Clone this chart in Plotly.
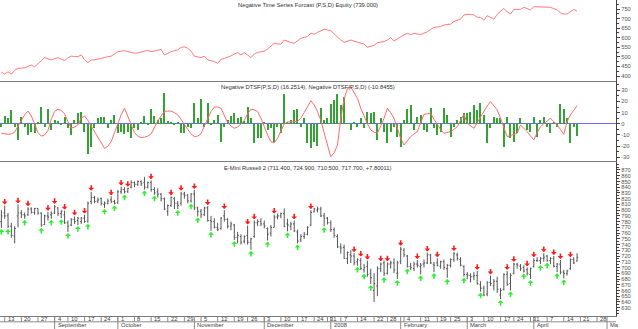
import pandas as pd
import plotly.graph_objects as go

# ---------------- calendar (trading days) ----------------
holidays = ['2007-09-03', '2007-11-22', '2007-12-25', '2008-01-01',
            '2008-01-21', '2008-02-18', '2008-03-21']
calendar = pd.bdate_range('2007-08-10', '2008-05-02', freq='C', holidays=holidays)

# ---------------- price bars (E-Mini Russell 2000) ----------------
opens = [780, 795, 790, 772, 755, 790, 795, 792, 792, 802, 796,
         803, 795, 775, 790, 792, 795, 804, 794, 792, 778,
         774, 784, 782, 780, 786, 781, 815, 822, 816, 820,
         810, 812, 818, 815, 813, 832, 836, 833, 840, 848,
         845, 850, 848, 840, 848, 836, 832, 828, 820, 798,
         808, 820, 812, 812, 828, 826, 816, 828, 804, 798,
         792, 804, 782, 780, 770, 768, 790, 784, 772, 774,
         752, 754, 746, 756, 744, 754, 778, 780, 776, 768,
         760, 770, 788, 790, 794, 776, 772, 776, 762, 748,
         754, 758, 774, 797, 800, 802, 790, 786, 778, 766,
         754, 736, 735, 716, 722, 720, 710, 712, 696, 702,
         690, 660, 668, 698, 708, 690, 706, 708, 690, 710,
         730, 720, 702, 698, 706, 702, 706, 708, 722, 706,
         708, 702, 710, 698, 704, 714, 722, 714, 702, 688,
         686, 684, 686, 670, 664, 654, 674, 668, 676, 652,
         662, 688, 672, 690, 706, 702, 700, 696, 688, 702,
         712, 712, 716, 720, 712, 716, 702, 706, 692, 690,
         698, 714, 711.4]
highs = [800, 808, 795, 778, 772, 810, 800, 796, 805, 805, 804,
         803, 796, 792, 797, 798, 809, 805, 800, 799, 782,
         786, 789, 788, 788, 792, 815, 832, 825, 822, 822,
         815, 820, 824, 818, 835, 841, 840, 839, 852, 850,
         852, 852, 858, 850, 852, 840, 838, 830, 822, 810,
         824, 823, 816, 832, 832, 828, 830, 835, 806, 802,
         806, 807, 790, 786, 778, 788, 800, 786, 780, 776,
         762, 758, 756, 773, 752, 782, 784, 786, 782, 770,
         774, 792, 794, 796, 803, 785, 780, 782, 766, 758,
         762, 772, 800, 804, 806, 806, 795, 788, 782, 770,
         758, 742, 740, 728, 730, 725, 716, 717, 706, 712,
         698, 690, 702, 709, 712, 709, 712, 716, 712, 736,
         734, 722, 708, 710, 713, 708, 714, 726, 724, 710,
         716, 712, 714, 706, 716, 727, 726, 718, 704, 692,
         690, 692, 694, 676, 668, 676, 686, 680, 684, 664,
         690, 694, 690, 708, 708, 706, 704, 700, 700, 716,
         718, 718, 725, 722, 718, 720, 708, 713, 696, 696,
         716, 718, 724.9]
lows = [769, 785, 769, 752, 742, 770, 786, 785, 790, 794, 792,
        792, 771, 774, 782, 785, 793, 790, 786, 776, 762,
        772, 776, 774, 776, 778, 778, 810, 812, 812, 808,
        804, 810, 812, 810, 811, 828, 829, 830, 838, 840,
        842, 842, 836, 838, 832, 827, 822, 815, 800, 790,
        806, 802, 802, 808, 820, 812, 813, 800, 789, 786,
        790, 780, 764, 768, 764, 766, 780, 768, 765, 748,
        742, 740, 742, 740, 731, 752, 772, 772, 768, 747,
        754, 770, 784, 786, 770, 763, 765, 762, 742, 744,
        750, 756, 772, 796, 796, 788, 772, 775, 762, 752,
        734, 724, 715, 706, 708, 704, 703, 696, 691, 684,
        671, 640, 650, 692, 685, 688, 698, 690, 680, 706,
        718, 700, 696, 694, 700, 688, 700, 706, 706, 692,
        702, 698, 696, 682, 700, 710, 712, 702, 684, 680,
        674, 678, 670, 658, 650, 650, 668, 660, 656, 645,
        660, 668, 660, 688, 698, 694, 691, 686, 680, 700,
        710, 706, 710, 710, 706, 700, 692, 688, 681, 686,
        696, 706, 710.5]
closes = [790, 790, 772, 756, 768, 795, 792, 790, 802, 796, 803,
          795, 774, 790, 788, 794, 806, 794, 798, 778, 772,
          784, 780, 786, 786, 780, 812, 822, 815, 818, 812,
          812, 816, 815, 812, 832, 836, 832, 838, 848, 845,
          850, 846, 840, 848, 836, 830, 828, 820, 802, 808,
          822, 812, 808, 828, 826, 816, 828, 804, 798, 792,
          804, 782, 780, 770, 766, 786, 784, 772, 776, 752,
          756, 744, 754, 744, 750, 778, 780, 776, 772, 758,
          770, 788, 790, 794, 772, 774, 776, 764, 746, 754,
          758, 770, 796, 802, 802, 790, 786, 778, 766, 756,
          736, 734, 716, 726, 720, 708, 714, 698, 700, 688,
          682, 672, 698, 706, 690, 706, 708, 696, 708, 732,
          722, 702, 700, 706, 704, 704, 708, 722, 708, 704,
          704, 710, 700, 704, 714, 724, 716, 704, 688, 686,
          684, 686, 672, 664, 652, 674, 672, 676, 662, 660,
          688, 670, 686, 706, 704, 698, 694, 690, 698, 712,
          712, 716, 718, 712, 716, 702, 706, 692, 690, 694,
          714, 708, 717.7]

# signal arrows (bar number = trading days from 13 Aug 2007, price the arrow points at)
sell_bar = [0, 4, 7, 13, 15, 18, 21, 24, 26, 32, 35, 37, 44, 50, 53, 57, 61, 66,
            73, 75, 81, 87, 92, 105, 107, 109, 113, 115, 119, 124, 127, 130, 135,
            142, 146, 151, 153, 157, 159, 162, 165, 167, 170]
sell_price = [810, 812, 807, 799, 811, 801, 791, 794, 834, 826, 843, 841, 854, 826,
              834, 837, 809, 802, 775, 784, 794, 784, 802, 727, 719, 714, 711, 711,
              738, 715, 728, 718, 729, 696, 688, 696, 710, 702, 718, 727, 722, 715, 718]
buy_bar = [-1, 1, 6, 11, 14, 17, 19, 22, 25, 30, 33, 36, 42, 45, 52, 56, 58, 62,
           69, 74, 79, 85, 88, 96, 106, 108, 110, 114, 118, 121, 125, 129, 133,
           138, 143, 149, 152, 156, 158, 161, 163, 166, 168]
buy_price = [767, 767, 783, 769, 783, 784, 760, 772, 776, 802, 808, 827, 834, 825,
             800, 811, 787, 762, 746, 729, 745, 761, 740, 770, 701, 689, 669, 683,
             678, 698, 686, 690, 680, 682, 656, 643, 658, 689, 678, 704, 708, 690, 679]

# ---------------- equity curve ----------------
equity = [420, 410, 422, 410, 430, 440, 441, 443, 450, 457, 448,
          462, 480, 496, 488, 484, 490, 496, 488, 481, 495,
          504, 502, 501, 510, 485, 470, 484, 485, 487, 492,
          497, 501, 504, 515, 527, 530, 532, 528, 522, 519,
          521, 524, 530, 534, 527, 532, 536, 539, 510, 520,
          527, 532, 536, 550, 552, 545, 530, 504, 500, 496,
          504, 484, 480, 476, 466, 487, 492, 498, 505, 515,
          522, 510, 522, 510, 496, 515, 524, 526, 530, 541,
          555, 571, 568, 566, 588, 580, 575, 571, 585, 597,
          602, 606, 623, 618, 628, 636, 644, 640, 637, 620,
          602, 588, 576, 582, 588, 582, 576, 572, 567, 550,
          553, 560, 574, 577, 580, 588, 600, 583, 595, 606,
          615, 623, 615, 623, 618, 616, 624, 631, 643, 654,
          656, 658, 666, 668, 671, 685, 692, 697, 719, 720,
          722, 719, 707, 706, 692, 715, 705, 697, 722, 740,
          753, 735, 724, 748, 748, 748, 759, 752, 745, 762,
          761, 760, 759, 759, 759, 752, 745, 730, 724, 724,
          736, 748, 739]

# ---------------- DTSF oscillator ----------------
dtsf_hist = [-2.6, 7.3, 4.9, 12.4, -3, -14.5, 6.4, -2.6, -10, -7, -8.5,
             2, 14.7, -2.6, 13, -5.5, 3.4, 2.8, -1, 6.4, -4,
             -10, 3.4, 9.4, 10.9, -7, -27.3, -20.4, -4, 4.9, 6.4,
             6.4, -4, 3.4, 7.9, -8.5, -7, -9.4, -7, -13, -4,
             -5.5, 1.3, 7, -1, 13, 7.3, 3.4, 4.9, 27.3, 2.5,
             2, -1, 1.3, -8.5, -8.5, -2.6, -4, 18.9, 4.9, 22.2,
             -2.6, 18.3, -1, 3.4, 7.9, -16, -2.6, 3.4, 7, 9.4,
             4.9, 5.8, 2.5, 14.7, 4.9, -17.5, -12.4, -13, 2, -5.5,
             -4, -16, -2.6, -8.5, 26.4, 2, 3.4, 12.4, 13.3, -2.6,
             4.9, -17.5, -22, -16, -20, 14, 3.4, 4.9, 18, 21,
             27, 17, 24, 0.4, -5.5, 2, -2.6, 4.9, -4, 10.9,
             9.4, 10.9, -14.5, 4.9, -7, -17.5, -7, -3, -11.5, -20.5,
             3.4, 13, 16.8, -5.5, 6.4, 7.9, -5.5, -7, 13.9, -4,
             -10, -7, 13.9, 7.9, -11.5, -2.6, 3.4, 6.4, 9.4, 9.4,
             10.3, 16.8, 12.4, 18.3, 7.9, -17.5, -4, 6.4, 4.9, 4.9,
             -20.5, 6.4, -13, -16, -8.5, 4.9, 0.4, -5.5, -7, 6.4,
             -11.5, 3.4, 6.4, -2.6, -8.5, 1.3, -2.6, 17.7, 13.3, 4.9,
             -17.5, -2.6, -10.8455]
dtsf_line = [-8.5, -9, -9.4, -9, -7.5, -2, 3, 8, 11.4, 7, 0,
             -8, -11, -10, -6, 4, 11, 13, 12, 9, 2,
             -4, -3, -1, 5, 7, 3, -2, -7, -12, -18,
             -22, -20, -16, -8, 0, 8, 13.9, 7, 0, -8,
             -11, -12.4, -12, -11, -9, -3, 2.5, 7, 11, 11.4,
             11.4, 10, 8, 4, -1, -5, -9, -11.5, -11, -9,
             -2, 5, 11, 15, 15, 13.9, 8, 1, -2, -4,
             -3, 0, 3, 9, 13, 12.5, 11, 5, -3, -10,
             -16, -17, -13, -6, 0, 1.5, 2, 2, 2, 5,
             10, 16, 20.7, 17, 11, 3, -7, -19, -29.5, -26,
             -19, 5, 22, 31.8, 33, 28, 22.8, 14, 6.4, 0,
             -5.5, -7.5, -8.5, -2, 4.9, 13.9, 10, 4.9, -4, -13,
             -19, -15, -11.5, -9, -7, 1, 8.5, 9, 9.4, 4,
             -1, -5, -8.5, -8, -7, -5, -2.6, 3, 8.5, 0.4,
             -2, -4, 1, 6.4, 11, 16, 19.8, 16, 12.4, 5,
             -2.6, -11.5, -10.5, -9.5, -8.5, -1, -4, -7, -11, -14.5,
             -8, -2.6, 0, 2.5, 4.9, 2, -1, -5, -9.4, 2,
             8, 12, 16.2514]

# ---------------- axis labels ----------------
equity_ticks = [400, 450, 500, 550, 600, 650, 700, 750]
dtsf_ticks = [-30, -20, -10, 0, 10, 20, 30]
price_ticks = list(range(630, 871, 10))
month_dates = ['2007-09-04', '2007-10-01', '2007-11-01', '2007-12-03', '2008-01-02',
               '2008-02-01', '2008-03-03', '2008-04-01', '2008-05-01']
month_names = ['September', 'October', 'November', 'December', '2008',
               'February', 'March', 'April', 'Ma']

# ---------------- positions on the trading-day scale ----------------
pos = {d: k - 1 for k, d in enumerate(calendar)}   # 13 Aug 2007 -> 0
bar_x = [pos[d] for d in calendar[:len(closes)]]
weeks = pd.Series(calendar, index=calendar).groupby(calendar.to_period('W')).first()
week_dates = list(weeks)[1:]
week_labels = [str(d.day) for d in week_dates]

X_RANGE = [-1.41, 183.7]
FONT = 'Liberation Sans'
FS = 5.8
AXC = '#404040'

fig = go.Figure()

fig.add_trace(go.Scatter(x=bar_x, y=equity, mode='lines',
                         line=dict(color='#ff7a7a', width=1),
                         xaxis='x', yaxis='y', showlegend=False))

fig.add_trace(go.Bar(x=bar_x, y=dtsf_hist, width=0.35,
                     marker=dict(color='#33a333', line=dict(width=0)),
                     xaxis='x2', yaxis='y2', showlegend=False))
fig.add_trace(go.Scatter(x=bar_x, y=dtsf_line, mode='lines',
                         line=dict(color='#ff6a6a', width=1),
                         xaxis='x2', yaxis='y2', showlegend=False))

fig.add_trace(go.Ohlc(x=bar_x, open=opens, high=highs, low=lows, close=closes,
                      increasing=dict(line=dict(color='#555555', width=1)),
                      decreasing=dict(line=dict(color='#555555', width=1)),
                      tickwidth=0.35, xaxis='x3', yaxis='y3', showlegend=False))

H_PLOT = 316.0


def py(px):
    return (H_PLOT - px) / H_PLOT


def yax(domain, rng, ticks, minor_dt):
    return dict(domain=domain, range=rng, side='right',
                showline=True, linecolor=AXC, linewidth=1, mirror=False,
                ticks='outside', ticklen=3, tickcolor=AXC, tickwidth=1,
                tickvals=ticks, ticktext=[str(t) for t in ticks],
                tickfont=dict(family=FONT, size=FS, color='#555555'),
                showgrid=False, zeroline=False, fixedrange=True,
                minor=dict(ticks='outside', ticklen=2, tickcolor=AXC,
                           dtick=minor_dt, tick0=0, showgrid=False))


def xax(anchor):
    return dict(range=X_RANGE, anchor=anchor, showline=True, linecolor='#7a7a7a',
                linewidth=1, showticklabels=False, ticks='', showgrid=False,
                zeroline=False, rangeslider=dict(visible=False))


y1 = yax([py(80.5), 1.0], [376.5, 797], equity_ticks, 25)
y1['anchor'] = 'x'
y2 = yax([py(161.0), py(81.0)], [-33.3, 38.3], dtsf_ticks, 5)
y2['anchor'] = 'x2'
y2['zeroline'] = True
y2['zerolinecolor'] = '#6b6bff'
y2['zerolinewidth'] = 1
y3 = yax([0, py(161.5)], [615.5, 884.8], price_ticks, 5)
y3['anchor'] = 'x3'

titles = [
    ('Negative Time Series Forcast (P,S,D) Equity (739.000)', 5.5),
    ('Negative DTSF(P,S,D) (16.2514), Negative DTSF(P,S,D) (-10.8455)', 86.5),
    ('E-Mini Russell 2 (711.400, 724.900, 710.500, 717.700, +7.80011)', 168),
]
annotations = []
for txt, ypx in titles:
    annotations.append(dict(text=txt, xref='paper', yref='paper', x=0.5, y=py(ypx),
                            xanchor='center', yanchor='middle', showarrow=False,
                            font=dict(family=FONT, size=FS, color='#303030')))

# signal arrows drawn as annotation arrows pointing at the price
for b, p in zip(sell_bar, sell_price):
    annotations.append(dict(x=b, y=p, xref='x3', yref='y3', text='', showarrow=True,
                            ax=0, ay=-7, arrowhead=1, arrowsize=0.6, arrowwidth=1.6,
                            arrowcolor='#ff1a1a'))
for b, p in zip(buy_bar, buy_price):
    annotations.append(dict(x=b, y=p, xref='x3', yref='y3', text='', showarrow=True,
                            ax=0, ay=7, arrowhead=1, arrowsize=0.6, arrowwidth=1.6,
                            arrowcolor='#2cf02c'))

shapes = []
row1_bottom = py(321.8)
row2_bottom = py(329.5)
shapes.append(dict(type='line', xref='paper', yref='paper', x0=0, x1=1,
                   y0=row1_bottom, y1=row1_bottom, line=dict(color='#8a8a8a', width=1)))
for d, lab in zip(week_dates, week_labels):
    xp = pos[d]
    shapes.append(dict(type='line', xref='x3', yref='paper', x0=xp, x1=xp,
                       y0=0, y1=row1_bottom, line=dict(color='#8a8a8a', width=1)))
    annotations.append(dict(text=lab, xref='x3', yref='paper', x=xp, y=py(318.9),
                            xanchor='left', yanchor='middle', xshift=1, showarrow=False,
                            font=dict(family=FONT, size=FS, color='#404040')))
for d, lab in zip(month_dates, month_names):
    xp = pos[pd.Timestamp(d)]
    shapes.append(dict(type='line', xref='x3', yref='paper', x0=xp, x1=xp,
                       y0=0, y1=row2_bottom, line=dict(color='#8a8a8a', width=1)))
    annotations.append(dict(text=lab, xref='x3', yref='paper', x=xp, y=py(325.3),
                            xanchor='left', yanchor='middle', xshift=1, showarrow=False,
                            font=dict(family=FONT, size=FS, color='#404040')))

fig.update_layout(
    width=638, height=329,
    margin=dict(l=0, r=22, t=0, b=329 - int(H_PLOT), pad=0),
    paper_bgcolor='white', plot_bgcolor='white',
    font=dict(family=FONT, size=FS, color='#404040'),
    xaxis=xax('y'), xaxis2=xax('y2'), xaxis3=xax('y3'),
    yaxis=y1, yaxis2=y2, yaxis3=y3,
    bargap=0, showlegend=False,
    annotations=annotations, shapes=shapes,
)

fig.write_html('out.html')
